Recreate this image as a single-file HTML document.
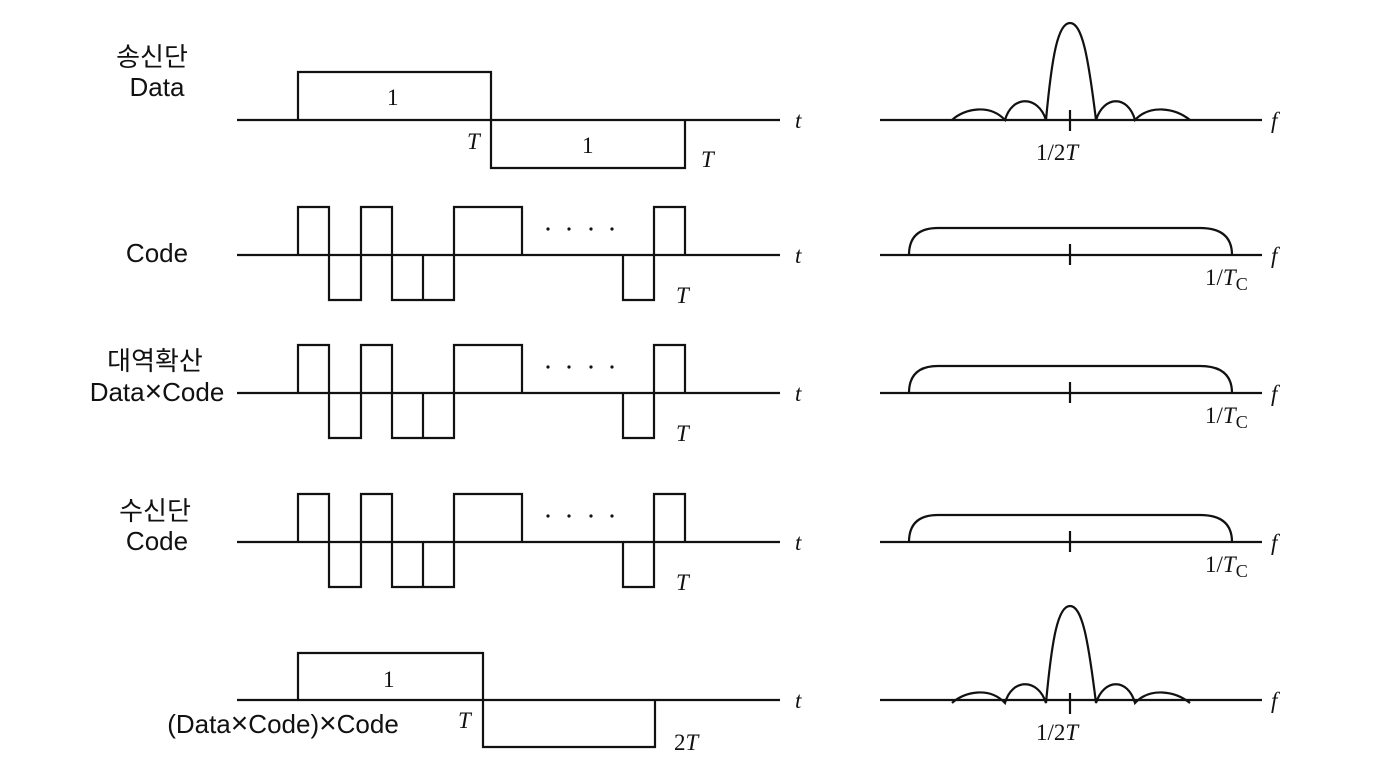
<!DOCTYPE html>
<html><head><meta charset="utf-8"><style>
html,body{margin:0;padding:0;background:#fff;}
svg{display:block;}
.s{font-family:"Liberation Sans","Noto Sans CJK KR",sans-serif;font-size:26px;fill:#111;text-anchor:middle;}
.x{font-size:30px;}
.m{font-family:"Liberation Serif",serif;font-size:23px;fill:#111;}
.i{font-style:italic;}
</style></head><body>
<svg width="1376" height="768" viewBox="0 0 1376 768" xmlns="http://www.w3.org/2000/svg">
<g fill="none" stroke="#111" stroke-width="2.2" stroke-linejoin="miter">
<line x1="237" y1="120" x2="780" y2="120"/>
<line x1="237" y1="255" x2="780" y2="255"/>
<line x1="237" y1="393" x2="780" y2="393"/>
<line x1="237" y1="542" x2="780" y2="542"/>
<line x1="237" y1="700" x2="780" y2="700"/>
<line x1="880" y1="120" x2="1262" y2="120"/>
<line x1="880" y1="255" x2="1262" y2="255"/>
<line x1="880" y1="393" x2="1262" y2="393"/>
<line x1="880" y1="542" x2="1262" y2="542"/>
<line x1="880" y1="700" x2="1262" y2="700"/>
<path d="M298,120 V72 H491 V168 H685 V120"/>
<path d="M298,700 V653 H483 V747 H655 V700"/>
<g id="c2">
<path d="M298,255 V207 H329 V300 H361 V207 H392 V300 H454 V207 H522 V255"/>
<line x1="423" y1="255" x2="423" y2="300"/>
<path d="M623,255 V300 H654 V207 H685 V255"/>
</g>
<use href="#c2" transform="translate(0,138)"/>
<use href="#c2" transform="translate(0,287)"/>
<g id="sp">
<path d="M952,120 C965,108 990,104 1005,120 C1012,95 1038,95 1046,120 C1052,55 1058,23 1070,23 C1082,23 1088,55 1096,120 C1104,95 1128,95 1135,120 C1150,104 1175,108 1190,120"/>
<line x1="1070" y1="110" x2="1070" y2="131"/>
</g>
<use href="#sp" transform="translate(0,583)"/>
<g id="fl">
<path d="M909,255 Q909,228 938,228 H1200 Q1232,228 1232,255"/>
<line x1="1070" y1="244" x2="1070" y2="265"/>
</g>
<use href="#fl" transform="translate(0,138)"/>
<use href="#fl" transform="translate(0,287)"/>
</g>
<g fill="#111">
<circle cx="548" cy="229" r="1.6"/><circle cx="569" cy="229" r="1.6"/><circle cx="591" cy="229" r="1.6"/><circle cx="612" cy="229" r="1.6"/>
<circle cx="548" cy="367" r="1.6"/><circle cx="569" cy="367" r="1.6"/><circle cx="591" cy="367" r="1.6"/><circle cx="612" cy="367" r="1.6"/>
<circle cx="548" cy="516" r="1.6"/><circle cx="569" cy="516" r="1.6"/><circle cx="591" cy="516" r="1.6"/><circle cx="612" cy="516" r="1.6"/>
</g>
<text class="s" x="152" y="66">송신단</text>
<text class="s" x="157" y="96">Data</text>
<text class="s" x="157" y="262">Code</text>
<text class="s" x="155" y="370">대역확산</text>
<text class="s" x="157" y="401">Data<tspan class="x">×</tspan>Code</text>
<text class="s" x="155" y="520">수신단</text>
<text class="s" x="157" y="550">Code</text>
<text class="s" x="283" y="733">(Data<tspan class="x">×</tspan>Code)<tspan class="x">×</tspan>Code</text>
<text class="m" x="387" y="105">1</text>
<text class="m" x="582" y="153">1</text>
<text class="m" x="383" y="687">1</text>
<text class="m i" x="467" y="149">T</text>
<text class="m i" x="701" y="167">T</text>
<text class="m i" x="676" y="303">T</text>
<text class="m i" x="676" y="441">T</text>
<text class="m i" x="676" y="590">T</text>
<text class="m i" x="458" y="728">T</text>
<text class="m" x="674" y="750">2<tspan font-style="italic">T</tspan></text>
<g class="m i">
<text x="795" y="128">t</text><text x="795" y="263">t</text><text x="795" y="401">t</text><text x="795" y="550">t</text><text x="795" y="708">t</text>
<text x="1271" y="128">f</text><text x="1271" y="263">f</text><text x="1271" y="401">f</text><text x="1271" y="550">f</text><text x="1271" y="708">f</text>
</g>
<text class="m" x="1036" y="160">1/2<tspan font-style="italic">T</tspan></text>
<text class="m" x="1036" y="740">1/2<tspan font-style="italic">T</tspan></text>
<text class="m" x="1205" y="285">1/<tspan font-style="italic">T</tspan><tspan font-size="18" dy="5">C</tspan></text>
<text class="m" x="1205" y="423">1/<tspan font-style="italic">T</tspan><tspan font-size="18" dy="5">C</tspan></text>
<text class="m" x="1205" y="572">1/<tspan font-style="italic">T</tspan><tspan font-size="18" dy="5">C</tspan></text>
</svg>
</body></html>
